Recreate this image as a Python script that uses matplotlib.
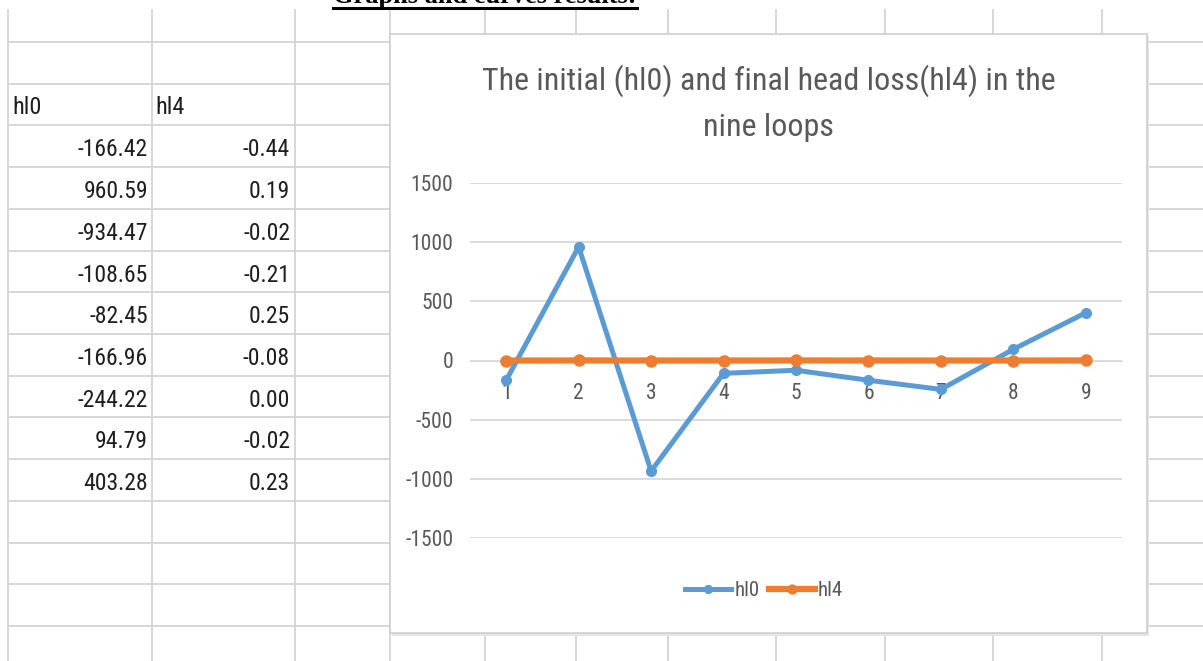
import matplotlib
matplotlib.use('Agg')
import matplotlib.pyplot as plt
from matplotlib import font_manager
from matplotlib.font_manager import FontProperties
from matplotlib.lines import Line2D
from matplotlib.patches import Rectangle

plt.rcParams['axes.unicode_minus'] = False

# ---------------- data ----------------
loops = [1, 2, 3, 4, 5, 6, 7, 8, 9]
hl0 = [-166.42, 960.59, -934.47, -108.65, -82.45, -166.96, -244.22, 94.79, 403.28]
hl4 = [-0.44, 0.19, -0.02, -0.21, 0.25, -0.08, 0.00, -0.02, 0.23]
y_ticks = [-1500, -1000, -500, 0, 500, 1000, 1500]
series_names = ["hl0", "hl4"]
title_lines = ["The initial (hl0) and final head loss(hl4) in the", "nine loops"]
heading = "Graphs and curves results:"

W, H = 1203, 661


def px(x):
    return x / W


def py(y):
    return 1 - y / H


def pick_font():
    names = {f.name for f in font_manager.fontManager.ttflist}
    for cand in ['Liberation Sans Narrow', 'Arial Narrow', 'Roboto Condensed',
                 'Open Sans Condensed', 'Noto Sans Condensed']:
        if cand in names:
            return dict(family=cand)
    for f in font_manager.fontManager.ttflist:
        if f.name == 'DejaVu Sans' and 'condensed' in str(f.stretch):
            return dict(family='DejaVu Sans', stretch='condensed')
    return dict(family='Liberation Sans')


FONT = pick_font()


def fp(size, **kw):
    d = dict(FONT)
    d.update(kw)
    return FontProperties(size=size, **d)


fig = plt.figure(figsize=(W / 100, H / 100), dpi=100)
fig.patch.set_facecolor('white')

# ---------------- spreadsheet grid ----------------
grid_col = '#D4D4D4'
rows_y = [42 + 41.72 * k for k in range(15)]
cols_x = [8, 152, 295, 390, 485, 576, 668, 776, 885, 993, 1102]
for y in rows_y:
    fig.add_artist(Line2D([px(8), px(W)], [py(y), py(y)], color=grid_col, lw=1.3, zorder=0.5))
for x in cols_x:
    fig.add_artist(Line2D([px(x), px(x)], [py(10), py(H)], color=grid_col, lw=1.3, zorder=0.5))

# ---------------- table text ----------------
tcol = '#1e1e1e'
fig.text(px(12), py(108), series_names[0], ha='left', va='center', fontproperties=fp(17.5), color=tcol)
fig.text(px(155), py(108), series_names[1], ha='left', va='center', fontproperties=fp(17.5), color=tcol)
for i, (a, b) in enumerate(zip(hl0, hl4)):
    yc = 150 + 41.7 * i
    fig.text(px(148), py(yc), f"{a:.2f}", ha='right', va='center', fontproperties=fp(17), color=tcol)
    fig.text(px(290), py(yc), f"{b:.2f}", ha='right', va='center', fontproperties=fp(17), color=tcol)

# ---------------- heading (cut off at top, as in the screenshot) ----------------
ht = fig.text(px(485), py(3), heading, ha='center', va='baseline', fontsize=19,
              fontweight='bold', family='Liberation Serif', color='black', zorder=5)

# ---------------- chart panel ----------------
fig.add_artist(Rectangle((px(392), py(636)), (1149 - 392) / W, (636 - 36) / H,
                         transform=fig.transFigure, facecolor='#E6E6E6', edgecolor='none', zorder=0.8))
fig.add_artist(Rectangle((px(390), py(633)), (1147 - 390) / W, (633 - 34) / H,
                         transform=fig.transFigure, facecolor='white', edgecolor='#CFCFCF',
                         lw=1.2, zorder=1))

ax = fig.add_axes([px(470), py(538), (1122 - 470) / W, (538 - 183) / H])
ax.set_zorder(2)
ax.patch.set_alpha(0)
ax.set_xlim(0.5, 9.5)
ax.set_ylim(-1500, 1500)
ax.set_yticks(y_ticks)
ax.set_xticks(loops)
ax.set_axisbelow(True)
ax.yaxis.grid(True, color='#D9D9D9', lw=1.3)
for s in ['top', 'right', 'left']:
    ax.spines[s].set_visible(False)
ax.spines['bottom'].set_position(('data', 0))
ax.spines['bottom'].set_color('#D9D9D9')
ax.tick_params(length=0, labelcolor='#595959')
ax.tick_params(axis='y', pad=12)
ax.tick_params(axis='x', pad=16)
for lab in ax.get_xticklabels() + ax.get_yticklabels():
    lab.set_fontproperties(fp(15.5))

ax.plot(loops, hl0, color='#5B9BD5', lw=3.6, marker='o', ms=7, label=series_names[0], zorder=3)
ax.plot(loops, hl4, color='#ED7D31', lw=4.5, marker='o', ms=8, label=series_names[1], zorder=4)

leg = ax.legend(loc='center', bbox_to_anchor=(px(764), py(591)), bbox_transform=fig.transFigure,
                ncol=2, frameon=False, handlelength=2.2, handletextpad=0.15, columnspacing=0.45,
                prop=fp(15), labelcolor='#595959', markerscale=0.8)

fig.text(px(768.5), py(81), title_lines[0], ha='center', va='center', fontproperties=fp(23),
         color='#595959', zorder=5)
fig.text(px(768.5), py(128), title_lines[1], ha='center', va='center', fontproperties=fp(23),
         color='#595959', zorder=5)

# underline for heading, derived from its rendered extent
fig.canvas.draw()
bb = ht.get_window_extent()
fig.add_artist(Line2D([bb.x0 / W, bb.x1 / W], [py(7.5), py(7.5)], color='black', lw=2.2, zorder=5))

fig.savefig('out.png', dpi=100)
